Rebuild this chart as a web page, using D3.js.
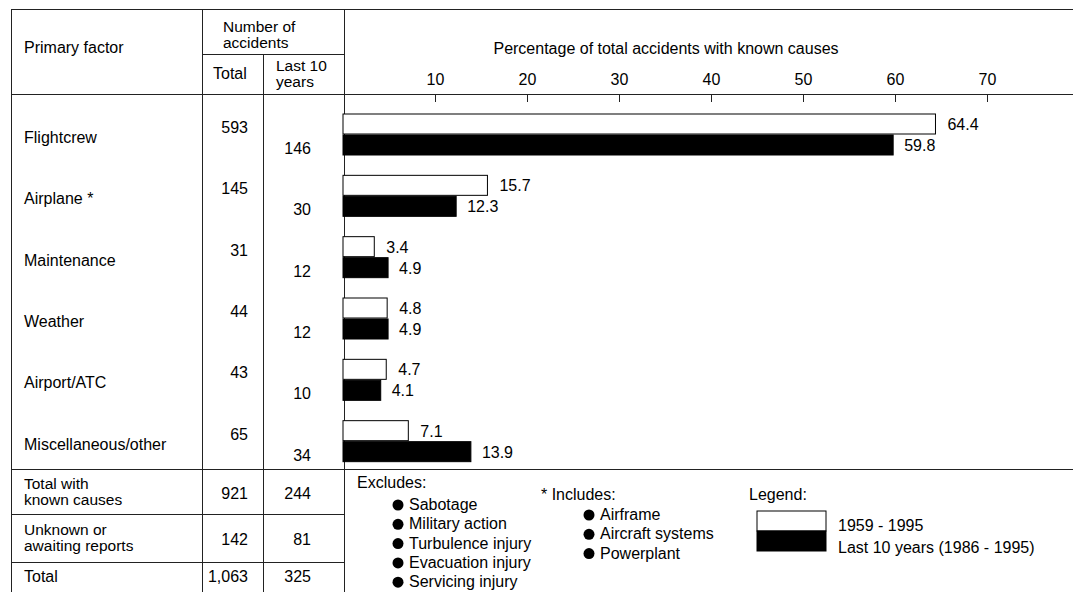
<!DOCTYPE html>
<html>
<head>
<meta charset="utf-8">
<script src="https://cdn.jsdelivr.net/npm/d3@7"></script>
<style>
  html, body { margin: 0; padding: 0; background: #fff; }
  svg text { font-family: "Liberation Sans", Arial, sans-serif; font-size: 16px; fill: #000; }
</style>
</head>
<body>
<svg id="chart" width="1073" height="592"></svg>
<script>
// ---------- data ----------
const factors = ["Flightcrew", "Airplane *", "Maintenance", "Weather", "Airport/ATC", "Miscellaneous/other"];
const totalCounts = ["593", "145", "31", "44", "43", "65"];
const last10Counts = ["146", "30", "12", "12", "10", "34"];
const pctAllYears = [64.4, 15.7, 3.4, 4.8, 4.7, 7.1];
const pctLast10 = [59.8, 12.3, 4.9, 4.9, 4.1, 13.9];
const tickValues = [10, 20, 30, 40, 50, 60, 70];
const summaryLabels = [["Total with", "known causes"], ["Unknown or", "awaiting reports"], ["Total"]];
const summaryTotal = ["921", "142", "1,063"];
const summaryLast10 = ["244", "81", "325"];
const excludesList = ["Sabotage", "Military action", "Turbulence injury", "Evacuation injury", "Servicing injury"];
const includesList = ["Airframe", "Aircraft systems", "Powerplant"];
const legendLabels = ["1959 - 1995", "Last 10 years (1986 - 1995)"];

// ---------- layout ----------
const svg = d3.select("#chart");
const W = 1073, H = 592;
const xL = 11, xC1 = 202, xC2 = 263, xC3 = 344, xR = 1073;
const yTop = 9, ySub = 54, yHead = 94, yBody = 469;
const lineColor = "#222";

const x = d3.scaleLinear().domain([0, 80]).range([343, 343 + 736]);
const y = d3.scaleBand().domain(factors).range([104, 472]);
const barH = 20;

// multi-line text helper (one text element, tspans)
function multiText(xx, yy, lines, dy, size) {
  const t = svg.append("text").attr("x", xx).attr("y", yy).style("font-size", size + "px");
  lines.forEach((s, i) => t.append("tspan").attr("x", xx).attr("dy", i === 0 ? 0 : dy).text(s));
  return t;
}

// grid lines of table
const g = svg.append("g").attr("stroke", lineColor).attr("stroke-width", 1).attr("shape-rendering", "crispEdges");
const hline = (x1, x2, yy) => g.append("line").attr("x1", x1).attr("x2", x2).attr("y1", yy).attr("y2", yy);
const vline = (xx, y1, y2) => g.append("line").attr("x1", xx).attr("x2", xx).attr("y1", y1).attr("y2", y2);
hline(xL, xR, yTop);
hline(xC1, xC3, ySub);
hline(xL, xR, yHead);
hline(xL, xR, yBody);
hline(xL, xC3, 514);
hline(xL, xC3, 562);
vline(xL, yTop, H);
vline(xC1, yTop, H);
vline(xC2, ySub, H);
vline(xC3, yTop, H);

// header texts
svg.append("text").attr("x", 24).attr("y", 53).text("Primary factor");
multiText(223, 32, ["Number of", "accidents"], 16, 15.5);
svg.append("text").attr("x", 213).attr("y", 79).text("Total");
multiText(276, 71, ["Last 10", "years"], 16, 15.5);
svg.append("text").attr("x", 666).attr("y", 54).attr("text-anchor", "middle")
  .text("Percentage of total accidents with known causes");

// axis
const axis = d3.axisTop(x).tickValues(tickValues).tickSizeInner(-8).tickSizeOuter(0).tickPadding(9)
  .tickFormat(d3.format("d"));
const ax = svg.append("g").attr("transform", `translate(0,${yHead})`).call(axis);
ax.select(".domain").remove();
ax.selectAll(".tick line").attr("stroke", lineColor);
ax.selectAll(".tick text").attr("font-size", 16).attr("font-family", "Liberation Sans, Arial, sans-serif").attr("fill", "#000");

// rows
const rows = factors.map((f, i) => ({f, tot: totalCounts[i], l10: last10Counts[i], a: pctAllYears[i], b: pctLast10[i]}));
const rg = svg.selectAll("g.row").data(rows).join("g").attr("class", "row");
rg.append("text").attr("x", 24).attr("y", d => y(d.f) + 39).text(d => d.f);
rg.append("text").attr("x", 248).attr("y", d => y(d.f) + 29).attr("text-anchor", "end").text(d => d.tot);
rg.append("text").attr("x", 311).attr("y", d => y(d.f) + 50).attr("text-anchor", "end").text(d => d.l10);

rg.append("rect").attr("x", x(0)).attr("y", d => y(d.f) + 10).attr("width", d => x(d.a) - x(0)).attr("height", barH)
  .attr("fill", "#fff").attr("stroke", "#000").attr("stroke-width", 1);
rg.append("rect").attr("x", x(0)).attr("y", d => y(d.f) + 31).attr("width", d => x(d.b) - x(0)).attr("height", barH)
  .attr("fill", "#000").attr("stroke", "#000").attr("stroke-width", 1);
rg.append("text").attr("x", d => x(d.a) + 12).attr("y", d => y(d.f) + 26).text(d => d3.format(".1f")(d.a));
rg.append("text").attr("x", d => x(d.b) + 11).attr("y", d => y(d.f) + 47).text(d => d3.format(".1f")(d.b));

// summary rows
const sumY = [489, 535, 582];
const sumNumY = [499, 545, 582];
summaryLabels.forEach((lines, i) => {
  multiText(24, sumY[i], lines, 16, lines.length > 1 ? 15.5 : 16);
  svg.append("text").attr("x", 248).attr("y", sumNumY[i]).attr("text-anchor", "end").text(summaryTotal[i]);
  svg.append("text").attr("x", 311).attr("y", sumNumY[i]).attr("text-anchor", "end").text(summaryLast10[i]);
});

// footnotes
svg.append("text").attr("x", 357).attr("y", 488).text("Excludes:");
excludesList.forEach((t, i) => {
  const yy = 504 + i * 19.3;
  svg.append("circle").attr("cx", 398).attr("cy", yy + 1).attr("r", 5.5).attr("fill", "#000");
  svg.append("text").attr("x", 409).attr("y", yy + 6).text(t);
});
svg.append("text").attr("x", 541).attr("y", 500).text("* Includes:");
includesList.forEach((t, i) => {
  const yy = 514 + i * 19.3;
  svg.append("circle").attr("cx", 589).attr("cy", yy + 1).attr("r", 5.5).attr("fill", "#000");
  svg.append("text").attr("x", 600).attr("y", yy + 6).text(t);
});

// legend
svg.append("text").attr("x", 749).attr("y", 500).text("Legend:");
svg.append("rect").attr("x", 757).attr("y", 511).attr("width", 69).attr("height", 20)
  .attr("fill", "#fff").attr("stroke", "#000");
svg.append("rect").attr("x", 757).attr("y", 531).attr("width", 69).attr("height", 20)
  .attr("fill", "#000").attr("stroke", "#000");
svg.append("text").attr("x", 838).attr("y", 531).text(legendLabels[0]);
svg.append("text").attr("x", 838).attr("y", 553).text(legendLabels[1]);
</script>
</body>
</html>
